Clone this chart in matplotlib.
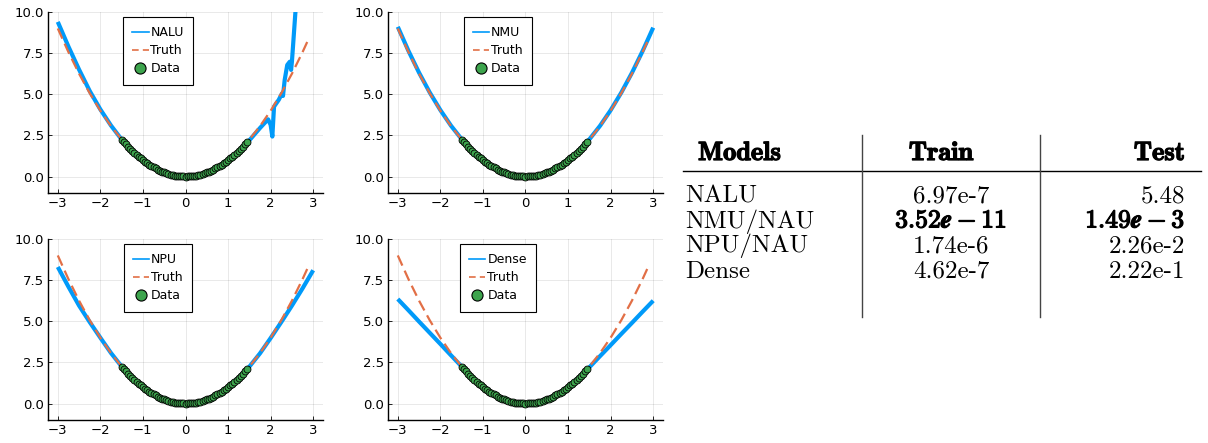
import matplotlib

matplotlib.use("Agg")

import matplotlib.patheffects as pe
import matplotlib.pyplot as plt
from matplotlib.lines import Line2D
from matplotlib.ticker import FormatStrFormatter

plt.rcParams["mathtext.fontset"] = "cm"

BLUE = "#009AF9"
ORANGE = "#E26F46"
GREEN = "#3DA44D"

# training samples (y = x^2 on the interval seen during training)
data_x = [-1.50, -1.45, -1.40, -1.35, -1.30, -1.25, -1.20, -1.15, -1.10, -1.05,
          -1.00, -0.95, -0.90, -0.85, -0.80, -0.75, -0.70, -0.65, -0.60, -0.55,
          -0.50, -0.45, -0.40, -0.35, -0.30, -0.25, -0.20, -0.15, -0.10, -0.05,
          0.00, 0.05, 0.10, 0.15, 0.20, 0.25, 0.30, 0.35, 0.40, 0.45,
          0.50, 0.55, 0.60, 0.65, 0.70, 0.75, 0.80, 0.85, 0.90, 0.95,
          1.00, 1.05, 1.10, 1.15, 1.20, 1.25, 1.30, 1.35, 1.40, 1.45]
data_y = [2.250, 2.103, 1.960, 1.823, 1.690, 1.563, 1.440, 1.323, 1.210, 1.103,
          1.000, 0.903, 0.810, 0.723, 0.640, 0.563, 0.490, 0.423, 0.360, 0.303,
          0.250, 0.203, 0.160, 0.123, 0.090, 0.063, 0.040, 0.023, 0.010, 0.003,
          0.000, 0.003, 0.010, 0.023, 0.040, 0.063, 0.090, 0.123, 0.160, 0.203,
          0.250, 0.303, 0.360, 0.423, 0.490, 0.563, 0.640, 0.723, 0.810, 0.903,
          1.000, 1.103, 1.210, 1.323, 1.440, 1.563, 1.690, 1.823, 1.960, 2.103]

truth_x = [-3.0, -2.75, -2.5, -2.25, -2.0, -1.75, -1.5, -1.25, -1.0, -0.75, -0.5, -0.25,
           0.0, 0.25, 0.5, 0.75, 1.0, 1.25, 1.5, 1.75, 2.0, 2.25, 2.5, 2.75, 2.9]
truth_y = [9.0, 7.563, 6.25, 5.063, 4.0, 3.063, 2.25, 1.563, 1.0, 0.563, 0.25, 0.063,
           0.0, 0.063, 0.25, 0.563, 1.0, 1.563, 2.25, 3.063, 4.0, 5.063, 6.25, 7.563, 8.41]

grid_x = [-3.0, -2.75, -2.5, -2.25, -2.0, -1.75, -1.5, -1.25, -1.0, -0.75, -0.5, -0.25,
          0.0, 0.25, 0.5, 0.75, 1.0, 1.25, 1.5, 1.75, 2.0, 2.25, 2.5, 2.75, 3.0]

nmu_y = [9.1, 7.64, 6.31, 5.11, 4.04, 3.09, 2.27, 1.58, 1.01, 0.57, 0.25, 0.06,
         0.0, 0.06, 0.25, 0.57, 1.0, 1.57, 2.26, 3.08, 4.03, 5.1, 6.3, 7.62, 9.05]
npu_y = [8.3, 7.1, 5.95, 4.95, 4.0, 3.07, 2.25, 1.56, 1.0, 0.56, 0.25, 0.06,
         0.0, 0.06, 0.25, 0.56, 1.0, 1.56, 2.24, 3.05, 3.98, 4.95, 5.95, 7.0, 8.1]
dense_y = [6.35, 5.67, 4.98, 4.30, 3.62, 2.93, 2.25, 1.56, 1.0, 0.56, 0.25, 0.06,
           0.0, 0.06, 0.25, 0.56, 1.0, 1.56, 2.2, 2.88, 3.55, 4.23, 4.9, 5.58, 6.25]

nalu_x = [-3.0, -2.75, -2.5, -2.25, -2.0, -1.75, -1.5, -1.25, -1.0, -0.75, -0.5, -0.25,
          0.0, 0.25, 0.5, 0.75, 1.0, 1.25, 1.5, 1.75, 1.94, 2.0, 2.04, 2.08, 2.19,
          2.27, 2.29, 2.33, 2.39, 2.45, 2.48, 2.5, 2.58, 2.64]
nalu_y = [9.4, 7.9, 6.5, 5.2, 4.08, 3.1, 2.25, 1.55, 0.98, 0.53, 0.2, 0.0,
          -0.1, 0.0, 0.2, 0.53, 0.98, 1.55, 2.2, 2.95, 3.48, 3.14, 2.43, 4.25, 4.66,
          5.06, 4.9, 5.87, 6.78, 6.98, 6.48, 6.98, 9.92, 11.5]

panels = [
    ("NALU", nalu_x, nalu_y),
    ("NMU", grid_x, nmu_y),
    ("NPU", grid_x, npu_y),
    ("Dense", grid_x, dense_y),
]

# error table; the best model's row is set in bold
models = ["NALU", "NMU/NAU", "NPU/NAU", "Dense"]
train_err = ["6.97e-7", r"$\mathbf{3.52}\boldsymbol{e}-\mathbf{11}$", "1.74e-6", "4.62e-7"]
test_err = ["5.48", r"$\mathbf{1.49}\boldsymbol{e}-\mathbf{3}$", "2.26e-2", "2.22e-1"]
is_best = [False, True, False, False]

W, H = 1208, 443
fig = plt.figure(figsize=(W / 100, H / 100), dpi=100)

# axes boxes in pixels: left, top, right, bottom
boxes = [(48, 12, 323, 193), (388, 12, 663, 193), (48, 239, 323, 420), (388, 239, 663, 420)]

for (name, mx, my), (l, t, r, b) in zip(panels, boxes):
    ax = fig.add_axes([l / W, (H - b) / H, (r - l) / W, (b - t) / H])
    ax.plot(mx, my, color=BLUE, lw=3, solid_capstyle="butt", zorder=2)
    ax.plot(truth_x, truth_y, color=ORANGE, lw=1.6, dashes=(5, 2.5), zorder=3)
    ax.plot(data_x, data_y, "o", color=GREEN, ms=5, mec="black", mew=0.6, zorder=4)
    ax.set_xlim(-3.23, 3.23)
    ax.set_ylim(-1, 10)
    ax.set_xticks([-3, -2, -1, 0, 1, 2, 3])
    ax.set_yticks([0, 2.5, 5, 7.5, 10])
    ax.yaxis.set_major_formatter(FormatStrFormatter("%.1f"))
    ax.grid(True, color="black", alpha=0.1, lw=0.6)
    for side in ("top", "right"):
        ax.spines[side].set_visible(False)
    for side in ("left", "bottom"):
        ax.spines[side].set_linewidth(1.0)
    ax.tick_params(direction="in", length=3, width=0.6, labelsize=9.5, pad=3)

    handles = [
        Line2D([], [], color=BLUE, lw=1.2),
        Line2D([], [], color=ORANGE, lw=1.2, dashes=(4, 2.5)),
        Line2D([], [], ls="none", marker="o", color=GREEN, ms=8, mec="black", mew=0.8),
    ]
    leg = ax.legend(handles, [name, "Truth", "Data"], loc="upper center",
                    bbox_to_anchor=(0.40, 0.975), fontsize=9, frameon=True,
                    fancybox=False, edgecolor="black", framealpha=1,
                    handlelength=1.3, handletextpad=0.15, borderpad=0.75,
                    labelspacing=0.42, borderaxespad=0)
    leg.get_frame().set_linewidth(0.8)

# table drawn in pixel coordinates
tab = fig.add_axes([0, 0, 1, 1])
tab.set_xlim(0, W)
tab.set_ylim(H, 0)
tab.axis("off")

tab.plot([683, 1201], [171, 171], color="black", lw=1.0)
tab.plot([862, 862], [135, 317], color="#444444", lw=1.0)
tab.plot([1040, 1040], [135, 317], color="#444444", lw=1.0)

heavy = [pe.withStroke(linewidth=0.9, foreground="black")]

head_y = 160
head_kw = dict(family="cmb10", fontsize=19, va="baseline", path_effects=heavy)
tab.text(698, head_y, "Models", ha="left", **head_kw)
tab.text(941, head_y, "Train", ha="center", **head_kw)
tab.text(1185, head_y, "Test", ha="right", **head_kw)

row_y = [202.5, 227.5, 252.5, 277.5]
for y, m, tr, te, best in zip(row_y, models, train_err, test_err, is_best):
    val_kw = dict(family="cmr10", fontsize=18, va="baseline")
    if best:
        val_kw.update(fontsize=18.5, path_effects=heavy)
    tab.text(685, y, m, family="cmr10", fontsize=18, ha="left", va="baseline")
    tab.text(951, y, tr, ha="center", **val_kw)
    tab.text(1185, y, te, ha="right", **val_kw)

fig.savefig("out.png", dpi=100)
